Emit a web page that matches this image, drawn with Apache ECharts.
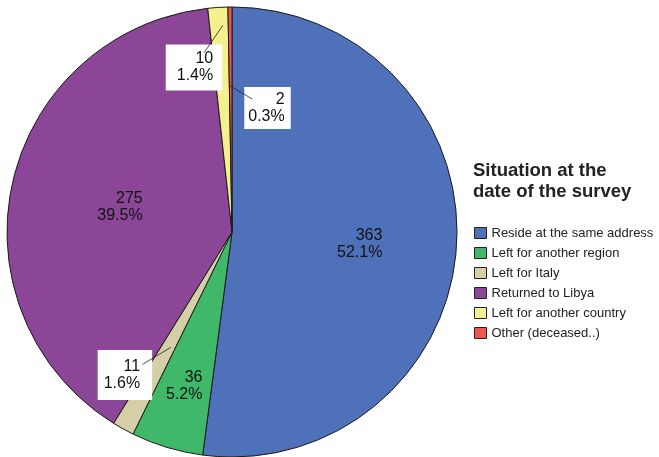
<!DOCTYPE html>
<html>
<head>
<meta charset="utf-8">
<script src="https://cdn.jsdelivr.net/npm/echarts@6/dist/echarts.min.js"></script>
<style>
  html, body { margin: 0; padding: 0; background: #fff; }
  #chart { width: 659px; height: 457px; }
</style>
</head>
<body>
<div id="chart"></div>
<script>
const categories = ['Reside at the same address', 'Left for another region', 'Left for Italy', 'Returned to Libya', 'Left for another country', 'Other (deceased..)']
const counts = [363, 36, 11, 275, 10, 2]
const colors = ['#4f71b9', '#3fb86a', '#d4cfa6', '#8b4697', '#f3f08d', '#ee5651']

const cx = 232, cy = 232, R = 225
const total = counts.reduce((a, b) => a + b, 0)
const percents = counts.map(v => (v / total * 100).toFixed(1) + '%')

// middle angle of each slice, degrees clockwise from 12 o'clock
const mids = []
let acc = 0
counts.forEach(v => { mids.push((acc + v / 2) / total * 360); acc += v })

function polar(deg, r) {
  const a = deg * Math.PI / 180
  return [cx + r * Math.sin(a), cy - r * Math.cos(a)]
}

// where each label sits (radius fraction, angle shift) and where a leader line starts
const labelSpots = [
  { r: 0.57, shift: 1.5 },
  { r: 0.718, shift: 0.4 },
  { r: 0.794, shift: 7.9, lineFrom: 0.58, lineShift: -1.0, pad: [8, 12, 8, 6] },
  { r: 0.51, shift: -0.2 },
  { r: 0.75, shift: -9.4, lineFrom: 0.92, lineShift: 1.1, pad: [6, 9, 6, 11] },
  { r: 0.573, shift: 16.5, lineFrom: 0.65, lineShift: -0.3, pad: [4, 6, 4, 4] }
]
const boxed = labelSpots.map(s => !!s.lineFrom)

const font = "'Liberation Sans', Arial, sans-serif"
const labelText = {
  fontFamily: font,
  fontSize: 16,
  lineHeight: 17,
  color: '#111',
  formatter: p => p.value + '\n' + percents[p.dataIndex]
}

function placeLabel(params) {
  const i = params.dataIndex
  const s = labelSpots[i]
  const [x, y] = polar(mids[i] + s.shift, s.r * R)
  const w = params.labelRect.width, h = params.labelRect.height
  const out = { x: x + w / 2, y: y, align: 'right', verticalAlign: 'middle' }
  if (s.lineFrom) {
    const p0 = polar(mids[i] + s.lineShift, s.lineFrom * R)
    const dx = p0[0] - x, dy = p0[1] - y
    const k = Math.min((w / 2) / Math.abs(dx), (h / 2) / Math.abs(dy)) * 0.65
    const p2 = [x + dx * k, y + dy * k]
    out.labelLinePoints = [p0, [(p0[0] + p2[0]) / 2, (p0[1] + p2[1]) / 2], p2]
  }
  return out
}

// an invisible copy of the pie that only carries labels (drawn above the real slices)
function labelPie(z, label, labelLine) {
  return {
    type: 'pie',
    z: z,
    silent: true,
    center: [cx, cy],
    radius: R,
    startAngle: 90,
    avoidLabelOverlap: false,
    itemStyle: { color: 'rgba(0,0,0,0)', borderWidth: 0 },
    label: Object.assign({ position: 'outside' }, labelText, label),
    labelLine: labelLine,
    labelLayout: placeLabel,
    data: categories.map((name, i) => ({
      name,
      value: counts[i],
      label: boxed[i] ? { show: true, padding: labelSpots[i].pad } : { show: false },
      labelLine: { show: boxed[i] && labelLine.show !== false }
    }))
  }
}

const chart = echarts.init(document.getElementById('chart'))

chart.setOption({
  animation: false,
  title: {
    text: 'Situation at the\ndate of the survey',
    left: 468,
    top: 155,
    textStyle: { fontFamily: font, fontSize: 18.5, fontWeight: 'bold', color: '#222', lineHeight: 21.5 }
  },
  legend: {
    orient: 'vertical',
    left: 469,
    top: 221.5,
    itemWidth: 12,
    itemHeight: 11,
    itemGap: 7,
    icon: 'rect',
    selectedMode: false,
    data: categories.map((name, i) => ({ name, itemStyle: { color: colors[i] } })),
    itemStyle: { borderColor: '#222', borderWidth: 1 },
    textStyle: { fontFamily: font, fontSize: 13, color: '#222' }
  },
  series: [
    {
      // the slices, with the labels that sit inside them
      type: 'pie',
      center: [cx, cy],
      radius: R,
      startAngle: 90,
      avoidLabelOverlap: false,
      itemStyle: { borderColor: '#1a1a1a', borderWidth: 1 },
      label: Object.assign({ position: 'inside' }, labelText),
      labelLine: { show: false },
      labelLayout: placeLabel,
      data: categories.map((name, i) => ({
        name,
        value: counts[i],
        itemStyle: { color: colors[i] },
        label: { show: !boxed[i] }
      }))
    },
    // white boxes with the small slices' labels
    labelPie(3, { backgroundColor: '#fff' }, { show: false }),
    // leader lines, drawn over the boxes
    labelPie(4, { color: 'rgba(0,0,0,0)' }, { show: true, lineStyle: { color: '#222', width: 0.8 } })
  ]
})
</script>
</body>
</html>
